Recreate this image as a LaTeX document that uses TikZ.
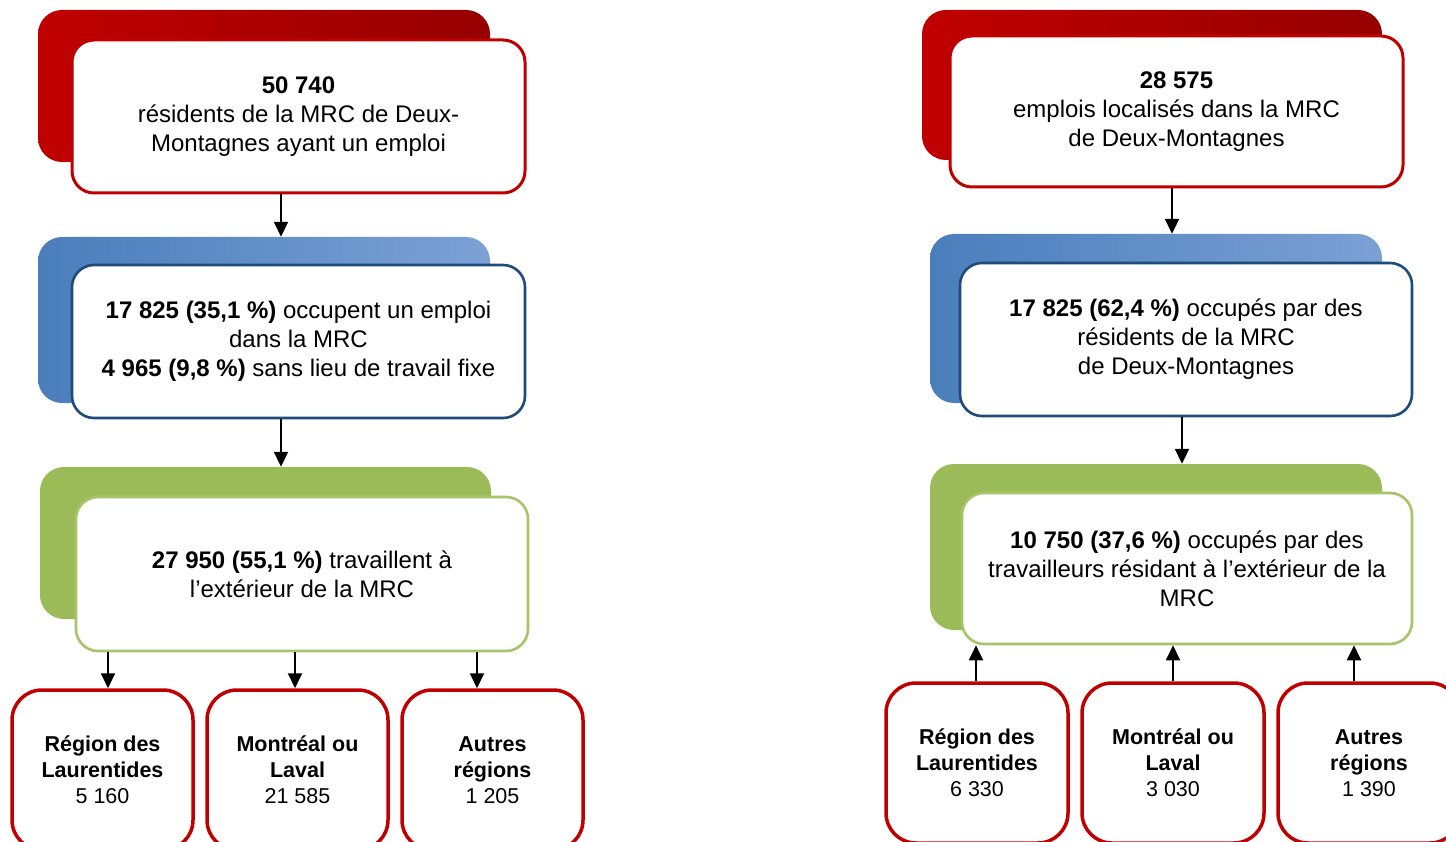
\documentclass[tikz,border=0pt]{standalone}
\usepackage{fontspec}
\setmainfont{Liberation Sans}
\usetikzlibrary{arrows.meta}
\definecolor{rd}{HTML}{C00000}
\definecolor{rddark}{HTML}{960000}
\definecolor{bluel}{HTML}{4A7EBB}
\definecolor{bluer}{HTML}{7CA1D5}
\definecolor{blueb}{HTML}{1F4A7C}
\definecolor{grn}{HTML}{9BBB59}
\definecolor{grnb}{HTML}{A6C46A}
\begin{document}
\begin{tikzpicture}[x=1pt,y=-1pt,
  back/.style={rounded corners=24pt, inner sep=0pt, draw=none},
  backred/.style={back, left color=rd, right color=rddark},
  backblue/.style={back, left color=bluel, right color=bluer},
  backgreen/.style={back, fill=grn},
  front/.style={rounded corners=22pt, fill=white, inner sep=0pt, align=center,
    font=\fontsize{24}{29}\selectfont},
  frontred/.style={front, draw=rd, line width=3pt},
  frontblue/.style={front, draw=blueb, line width=2.6pt},
  frontgreen/.style={front, draw=grnb, line width=2.6pt},
  region/.style={rounded corners=30pt, draw=rd, line width=3.5pt, fill=white,
    inner sep=0pt, align=center, font=\fontsize{21.5}{26}\selectfont},
  arr/.style={line width=2pt, -{Triangle[width=14pt,length=15pt]}}
]
\useasboundingbox (0,0) rectangle (1446,842);
\clip (0,0) rectangle (1446,842);

% ---------------- Left column ----------------
\node[backred, minimum width=452pt, minimum height=152pt] (b1) at (264,86) {};
\node[frontred, minimum width=453pt, minimum height=153pt] (f1) at (298.5,116.5)
  {\textbf{50 740}\\résidents de la MRC de Deux-\\Montagnes ayant un emploi};

\node[backblue, minimum width=452pt, minimum height=166pt] (b2) at (264,320) {};
\node[frontblue, minimum width=453pt, minimum height=153pt] (f2) at (298.5,341.5)
  {\textbf{17 825 (35,1 \%)} occupent un emploi\\dans la MRC\\\textbf{4 965 (9,8 \%)} sans lieu de travail fixe};

\node[backgreen, minimum width=451pt, minimum height=152pt] (b3) at (265.5,543) {};
\node[frontgreen, minimum width=452pt, minimum height=154pt] (f3) at (302,574)
  {\textbf{27 950 (55,1 \%)} travaillent à\\l’extérieur de la MRC};

\node[region, minimum width=181pt, minimum height=160pt] (l1) at (102.5,770)
  {\textbf{Région des}\\\textbf{Laurentides}\\5 160};
\node[region, minimum width=181pt, minimum height=160pt] (l2) at (297.5,770)
  {\textbf{Montréal ou}\\\textbf{Laval}\\21 585};
\node[region, minimum width=181pt, minimum height=160pt] (l3) at (492.5,770)
  {\textbf{Autres}\\\textbf{régions}\\1 205};

\draw[arr] (f1.south -| 281,0) -- (b2.north -| 281,0);
\draw[arr] (f2.south -| 281,0) -- (b3.north -| 281,0);
\draw[arr] (f3.south -| 108,0) -- (l1.north -| 108,0);
\draw[arr] (f3.south -| 295,0) -- (l2.north -| 295,0);
\draw[arr] (f3.south -| 477,0) -- (l3.north -| 477,0);

% ---------------- Right column ----------------
\node[backred, minimum width=460pt, minimum height=150pt] (rb1) at (1152,85) {};
\node[frontred, minimum width=453pt, minimum height=151pt] (rf1) at (1176.5,111.5)
  {\textbf{28 575}\\emplois localisés dans la MRC\\de Deux-Montagnes};

\node[backblue, minimum width=452pt, minimum height=169pt] (rb2) at (1156,318.5) {};
\node[frontblue, minimum width=452pt, minimum height=153pt] (rf2) at (1186,339.5)
  {\textbf{17 825 (62,4 \%)} occupés par des\\résidents de la MRC\\de Deux-Montagnes};

\node[backgreen, minimum width=452pt, minimum height=166pt] (rb3) at (1156,547) {};
\node[frontgreen, minimum width=450pt, minimum height=151pt] (rf3) at (1187,568.5)
  {\textbf{10 750 (37,6 \%)} occupés par des\\travailleurs résidant à l’extérieur de la\\MRC};

\node[region, minimum width=182pt, minimum height=160pt] (r1) at (977,763)
  {\textbf{Région des}\\\textbf{Laurentides}\\6 330};
\node[region, minimum width=182pt, minimum height=160pt] (r2) at (1173,763)
  {\textbf{Montréal ou}\\\textbf{Laval}\\3 030};
\node[region, minimum width=182pt, minimum height=160pt] (r3) at (1369,763)
  {\textbf{Autres}\\\textbf{régions}\\1 390};

\draw[arr] (rf1.south -| 1172,0) -- (rb2.north -| 1172,0);
\draw[arr] (rf2.south -| 1182,0) -- (rb3.north -| 1182,0);
\draw[arr] (r1.north -| 976,0) -- (rf3.south -| 976,0);
\draw[arr] (r2.north -| 1173,0) -- (rf3.south -| 1173,0);
\draw[arr] (r3.north -| 1354,0) -- (rf3.south -| 1354,0);
\end{tikzpicture}
\end{document}
